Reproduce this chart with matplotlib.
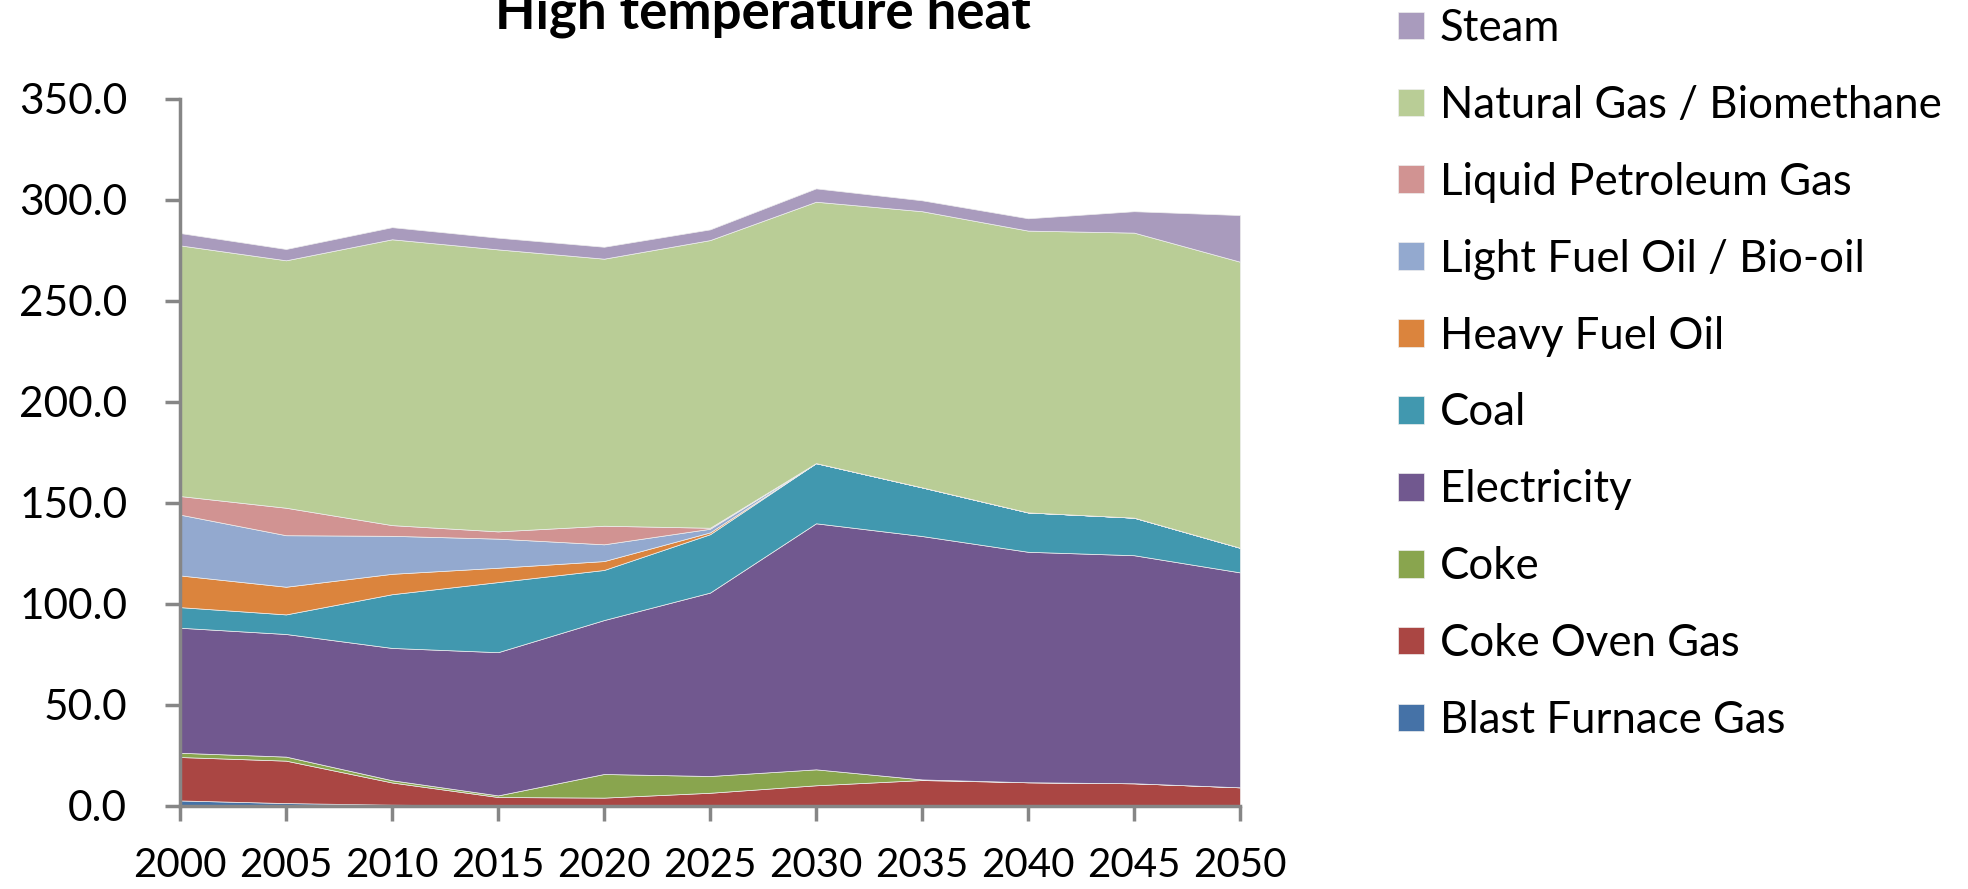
import matplotlib.pyplot as plt
from matplotlib.ticker import FormatStrFormatter

plt.rcParams['font.family'] = ['Lato', 'DejaVu Sans']

# Data (stacked, bottom to top)
years = [2000, 2005, 2010, 2015, 2020, 2025, 2030, 2035, 2040, 2045, 2050]
blast_furnace_gas = [2.5, 1.2, 0.4, 0.0, 0.0, 0.0, 0.0, 0.0, 0.0, 0.0, 0.0]
coke_oven_gas = [21.5, 21.0, 11.0, 4.2, 3.9, 6.3, 10.0, 12.6, 11.5, 11.0, 9.0]
coke = [2.1, 2.0, 1.1, 0.8, 11.7, 8.3, 7.9, 0.3, 0.0, 0.0, 0.0]
electricity = [61.9, 60.7, 65.5, 70.9, 76.2, 90.8, 121.8, 120.5, 114.1, 112.9, 106.4]
coal = [10.2, 9.7, 26.6, 34.7, 24.8, 28.9, 29.8, 24.1, 19.5, 18.6, 12.2]
heavy_fuel_oil = [15.7, 13.7, 10.1, 7.1, 4.4, 0.9, 0.0, 0.0, 0.0, 0.0, 0.0]
light_fuel_oil = [30.1, 25.5, 18.8, 14.4, 8.3, 1.8, 0.0, 0.0, 0.0, 0.0, 0.0]
lpg = [9.2, 13.6, 5.3, 3.6, 9.2, 0.5, 0.0, 0.0, 0.0, 0.0, 0.0]
natural_gas = [124.1, 122.5, 141.5, 139.6, 132.2, 142.4, 129.4, 136.7, 139.5, 141.1, 141.6]
steam = [6.1, 5.6, 6.0, 5.8, 5.9, 5.3, 6.6, 5.4, 6.1, 10.6, 23.1]

labels = ['Blast Furnace Gas', 'Coke Oven Gas', 'Coke', 'Electricity', 'Coal',
          'Heavy Fuel Oil', 'Light Fuel Oil / Bio-oil', 'Liquid Petroleum Gas',
          'Natural Gas / Biomethane', 'Steam']
colors = ['#4572A7', '#AA4643', '#89A54E', '#71588F', '#4198AF',
          '#DB843D', '#93A9CF', '#D19392', '#B9CD96', '#A99BBD']

f = plt.figure(figsize=(19.68, 8.89), dpi=100)
ax = f.add_axes([180/1968, 1-805.5/889, 1060/1968, 707/889])

polys = ax.stackplot(years, blast_furnace_gas, coke_oven_gas, coke, electricity, coal,
                     heavy_fuel_oil, light_fuel_oil, lpg, natural_gas, steam,
                     labels=labels, colors=colors, edgecolor='#eeeeee', linewidth=0.5)

ax.set_xlim(2000, 2050)
ax.set_ylim(0, 350)
ax.set_xticks(years)
ax.set_yticks(range(0, 351, 50))
ax.yaxis.set_major_formatter(FormatStrFormatter('%.1f'))

for s in ['top', 'right']:
    ax.spines[s].set_visible(False)
for s in ['left', 'bottom']:
    ax.spines[s].set_color('#868686')
    ax.spines[s].set_linewidth(2.5)
ax.tick_params(axis='both', direction='out', length=11, width=2.5, color='#868686')
ax.tick_params(axis='y', pad=27, labelsize=30.5)
ax.tick_params(axis='x', pad=19, labelsize=29)

# title sits partly above the top edge, as in the original
f.text(763/1968, 1-28/889, 'High temperature heat', ha='center', va='baseline',
       fontsize=38, fontweight='bold')

handles, labs = ax.get_legend_handles_labels()
ax.legend(handles[::-1], labs[::-1], loc='upper left', bbox_to_anchor=(1398/1968, 0.991),
          bbox_transform=f.transFigure, frameon=False, fontsize=31.5,
          handlelength=0.6, handleheight=0.6, handletextpad=0.35,
          labelspacing=0.82, borderaxespad=0, borderpad=0)

f.savefig('out.png', dpi=100)
